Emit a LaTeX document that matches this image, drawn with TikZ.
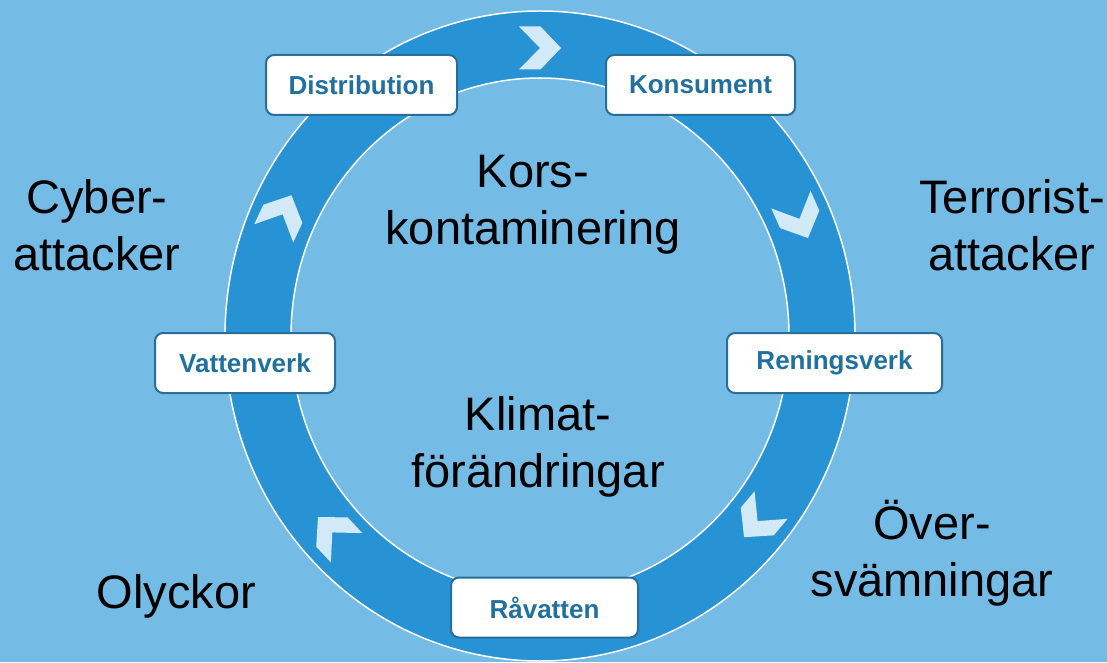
\documentclass[tikz,border=0pt]{standalone}
\usepackage{fontspec}
\setmainfont{Liberation Sans}
\definecolor{BgBlue}{RGB}{116, 187, 230}
\definecolor{RingBlue}{RGB}{40, 147, 212}
\definecolor{ArrowBlue}{RGB}{210, 234, 247}
\definecolor{BoxLine}{RGB}{40, 110, 155}
\definecolor{BoxText}{RGB}{32, 112, 160}

\begin{document}
\begin{tikzpicture}[
    x=1pt, y=1pt,
    % --- Styles ---
    % Style for the white stage boxes on the ring
    stage-box/.style={
        draw=BoxLine,
        line width=2pt,
        fill=white,
        rounded corners=8pt,
        minimum height=60pt,
        inner sep=0pt,
        text=BoxText,
        font=\fontsize{26}{30}\selectfont\bfseries
    },
    % Style for the big risk labels
    big-label/.style={
        align=center,
        text=black,
        font=\fontsize{47}{57}\selectfont
    },
    % Style for the chevrons inside the ring
    chevron-style/.style={
        fill=ArrowBlue
    }
]

% --- Background ---
\fill[BgBlue] (0,0) rectangle (1107,662);
\useasboundingbox (0,0) rectangle (1107,662);

% --- Ring ---
\coordinate (c) at (540,326);
\fill[RingBlue, even odd rule]
    (c) ellipse [x radius=315, y radius=325]
    (c) ellipse [x radius=249, y radius=258];
\draw[white, line width=1.5pt] (c) ellipse [x radius=315, y radius=325];
\draw[white, line width=1.5pt] (c) ellipse [x radius=249, y radius=258];

% --- Chevrons (clockwise) ---
\foreach \a in {90, 24, -40, -137, 155} {
    \fill[chevron-style, shift={(c)}, shift={(\a:284 and 288)}, rotate=\a-90]
        (-21,21.5) -- (0.5,21.5) -- (21,0) -- (0.5,-21.5) -- (-21,-21.5) -- (0,0) -- cycle;
}

% --- Stage boxes ---
\node[stage-box, minimum width=191pt] (distribution) at (361.5,577) {Distribution};
\node[stage-box, minimum width=189pt] (konsument) at (700.5,577) {Konsument};
\node[stage-box, minimum width=215pt] (reningsverk) at (834.5,299) {Reningsverk};
\node[stage-box, minimum width=187pt] (ravatten) at (544.5,54.5) {Råvatten};
\node[stage-box, minimum width=180pt] (vattenverk) at (245,299) {Vattenverk};

% --- Risk labels ---
\node[big-label] (kors) at (533,457.5) {Kors-\\kontaminering};
\node[big-label] (klimat) at (538,215.5) {Klimat-\\förändringar};
\node[big-label] (cyber) at (97,436.5) {Cyber-\\attacker};
\node[big-label] (terror) at (1012,436.5) {Terrorist-\\attacker};
\node[big-label] (oversvam) at (932,109) {Över-\\svämningar};
\node[big-label] (olyckor) at (176.5,66) {Olyckor};

\end{tikzpicture}
\end{document}
